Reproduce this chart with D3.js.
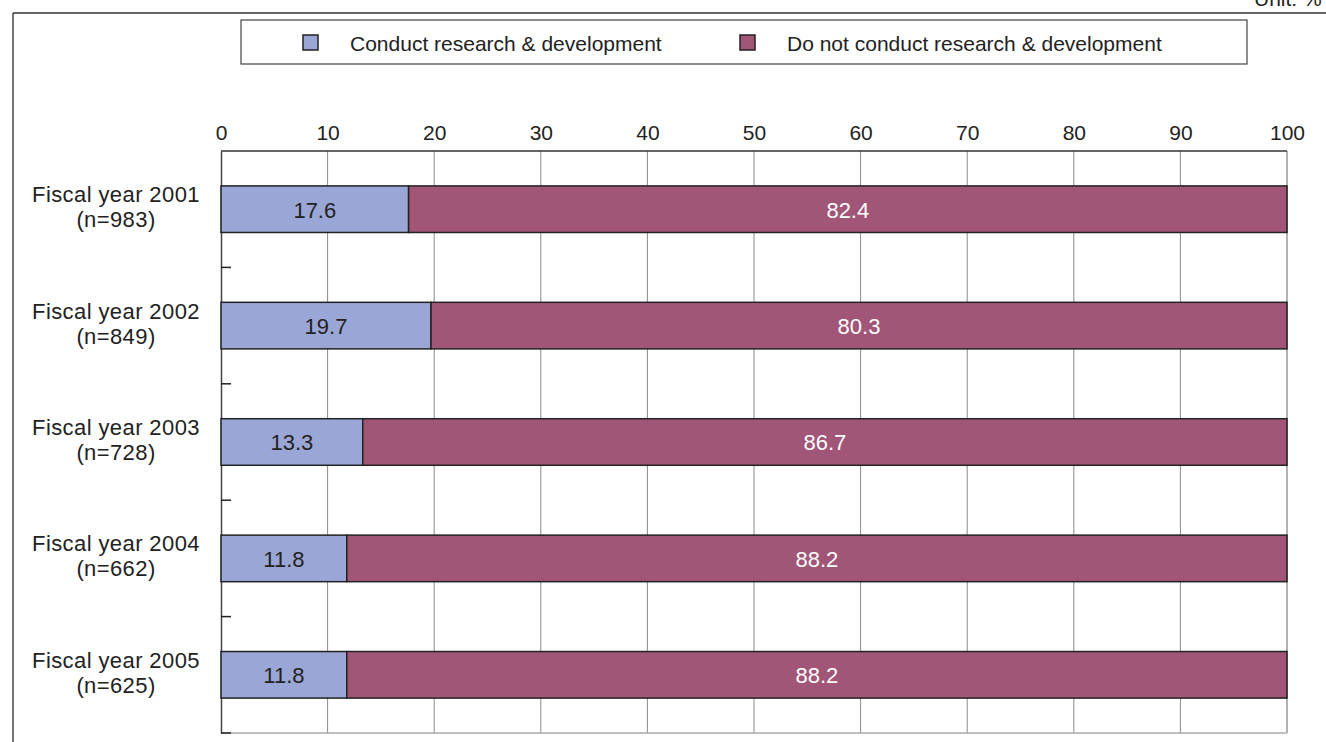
<!DOCTYPE html>
<html>
<head>
<meta charset="utf-8">
<script src="https://cdn.jsdelivr.net/npm/d3@7"></script>
<style>
  html, body { margin: 0; padding: 0; background: #fff; }
  svg { display: block; font-family: "Liberation Sans", Arial, Helvetica, sans-serif; }
</style>
</head>
<body>
<svg id="chart" width="1326" height="742"></svg>
<script>
// Share of firms by R&D activity, fiscal years 2001-2005 (unit: %)
const years = ["Fiscal year 2001", "Fiscal year 2002", "Fiscal year 2003", "Fiscal year 2004", "Fiscal year 2005"];
const sampleSizes = ["(n=983)", "(n=849)", "(n=728)", "(n=662)", "(n=625)"];
const conductRD = [17.6, 19.7, 13.3, 11.8, 11.8];
const noRD = [82.4, 80.3, 86.7, 88.2, 88.2];
const seriesNames = ["Conduct research & development", "Do not conduct research & development"];
const xTicks = [0, 10, 20, 30, 40, 50, 60, 70, 80, 90, 100];

const colors = ["#9aa6d5", "#a15577"];
const labelColors = ["#222222", "#ffffff"];

const svg = d3.select("#chart");
const plot = { left: 221, right: 1287, top: 151, bottom: 733 };

// Outer frame (top and left edges)
svg.append("line").attr("x1", 13).attr("x2", 1326).attr("y1", 13).attr("y2", 13)
  .attr("stroke", "#333").attr("stroke-width", 1.5);
svg.append("line").attr("x1", 13).attr("x2", 13).attr("y1", 13).attr("y2", 742)
  .attr("stroke", "#444").attr("stroke-width", 1.5);

// Unit label, partly above the top edge
svg.append("text").attr("x", 1254).attr("y", 6).attr("font-size", 21).attr("fill", "#222")
  .text("Unit: %");

const x = d3.scaleLinear().domain([0, 100]).range([plot.left, plot.right]);
const y = d3.scaleBand().domain(years).range([plot.top, plot.bottom]).paddingInner(0.6).paddingOuter(0.3);
const yb = d3.scaleBand().domain(years).range([plot.top, plot.bottom]);

// Vertical gridlines
svg.append("g").selectAll("line").data(xTicks.slice(1, -1)).join("line")
  .attr("x1", d => x(d)).attr("x2", d => x(d))
  .attr("y1", plot.top).attr("y2", plot.bottom)
  .attr("stroke", "#8a8a8a").attr("stroke-width", 1);

// Plot frame
svg.append("line").attr("x1", x(100)).attr("x2", x(100)).attr("y1", plot.top).attr("y2", plot.bottom)
  .attr("stroke", "#999").attr("stroke-width", 1.5);
svg.append("line").attr("x1", plot.left).attr("x2", plot.right).attr("y1", plot.bottom).attr("y2", plot.bottom)
  .attr("stroke", "#aaa").attr("stroke-width", 1.5);
svg.append("line").attr("x1", plot.left).attr("x2", plot.right).attr("y1", plot.top).attr("y2", plot.top)
  .attr("stroke", "#333").attr("stroke-width", 1.5);

// Top value axis
const xAxis = d3.axisTop(x).tickValues(xTicks).tickSize(0).tickPadding(0);
const gx = svg.append("g").attr("transform", `translate(0,${plot.top - 11})`).call(xAxis);
gx.select(".domain").remove();
gx.selectAll("text").attr("font-size", 21).attr("fill", "#222")
  .attr("font-family", "'Liberation Sans', Arial, sans-serif");

// Left category axis with ticks at band boundaries
const yAxis = d3.axisLeft(yb).tickSize(0).tickFormat("");
const gy = svg.append("g").attr("transform", `translate(${plot.left},0)`).call(yAxis);
gy.select(".domain").attr("stroke", "#444").attr("stroke-width", 1.5);
const boundaries = years.map(d => yb(d) + yb.bandwidth());
svg.append("g").selectAll("line").data(boundaries).join("line")
  .attr("x1", plot.left).attr("x2", plot.left + 10)
  .attr("y1", d => d).attr("y2", d => d)
  .attr("stroke", "#222").attr("stroke-width", 1.5);

// Category labels
const cat = svg.append("g").selectAll("text").data(years).join("text")
  .attr("x", 116).attr("y", d => yb(d) + yb.bandwidth() / 2)
  .attr("text-anchor", "middle").attr("font-size", 22).attr("letter-spacing", 0.4).attr("fill", "#222");
cat.append("tspan").attr("x", 116).attr("dy", -7).text(d => d);
cat.append("tspan").attr("x", 116).attr("dy", 25).text((d, i) => sampleSizes[i]);

// Stacked bars
const rows = years.map((yr, i) => ({ year: yr, values: [conductRD[i], noRD[i]] }));
rows.forEach(r => {
  let acc = 0;
  r.values.forEach((v, k) => {
    const x0 = acc, x1 = acc + v;
    acc = x1;
    svg.append("rect")
      .attr("x", x(x0)).attr("y", y(r.year))
      .attr("width", x(x1) - x(x0)).attr("height", y.bandwidth())
      .attr("fill", colors[k]).attr("stroke", "#222").attr("stroke-width", 1.5);
    svg.append("text")
      .attr("x", (x(x0) + x(x1)) / 2).attr("y", y(r.year) + y.bandwidth() / 2)
      .attr("dy", "0.38em").attr("text-anchor", "middle")
      .attr("font-size", 22).attr("fill", labelColors[k])
      .text(v.toFixed(1));
  });
});

// Legend
const legend = svg.append("g");
legend.append("rect").attr("x", 241).attr("y", 20).attr("width", 1006).attr("height", 44)
  .attr("fill", "#fff").attr("stroke", "#444").attr("stroke-width", 1.2);
const legendX = [303, 740];
seriesNames.forEach((name, k) => {
  legend.append("rect").attr("x", legendX[k]).attr("y", 35).attr("width", 15).attr("height", 15)
    .attr("fill", colors[k]).attr("stroke", "#222").attr("stroke-width", 1.5);
  legend.append("text").attr("x", legendX[k] + 47).attr("y", 43).attr("dy", "0.36em")
    .attr("font-size", 21).attr("fill", "#222").text(name);
});
</script>
</body>
</html>
